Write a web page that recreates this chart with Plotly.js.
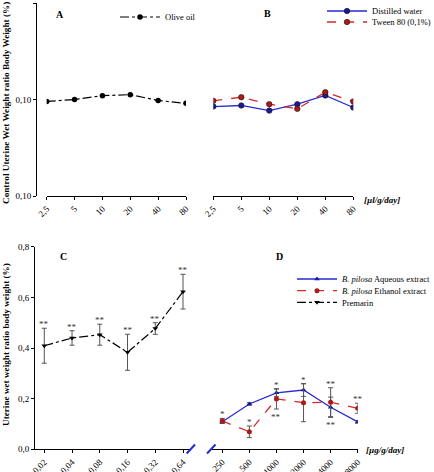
<!DOCTYPE html>
<html><head><meta charset="utf-8">
<script src="https://cdn.plot.ly/plotly-3.0.1.min.js"></script>
<style>html,body{margin:0;padding:0;background:#fff}#chart{width:434px;height:472px}</style>
</head><body><div id="chart"></div>
<script>
// ---- data ----
const doseA = ['2,5','5','10','20','40','80'];
const oliveOil = [0.0998, 0.1000, 0.1004, 0.1005, 0.0999, 0.0996];
const distilledWater = [0.09927, 0.09938, 0.09885, 0.09951, 0.10042, 0.09917];
const tween80 = [0.09986, 0.10024, 0.09951, 0.09903, 0.10076, 0.09979];
const topTickVals = [0.09, 0.10, 0.11];
const topTickText = ['0,10', '0,10', '0,11'];

const doseC = ['0,02','0,04','0,08','0,16','0,32','0,64'];
const premarin = [0.409, 0.4395, 0.4525, 0.383, 0.477, 0.6225];
const premarinErr = [0.069, 0.0285, 0.0415, 0.071, 0.023, 0.0685];
const premarinSig = ['**','**','**','**','**','**'];

const doseD = ['250','500','1000','2000','4000','8000'];
const aqueous = [0.109, 0.179, 0.223, 0.234, 0.166, 0.108];
const aqueousErr = [0.006, 0.005, 0.015, 0.025, 0.04, 0.005];
const aqueousSig = ['', '', '*', '*', '**', ''];
const aqueousSigSide = ['', '', 'up', 'up', 'down', ''];
const ethanol = [0.112, 0.069, 0.199, 0.184, 0.186, 0.162];
const ethanolErr = [0.01, 0.023, 0.04, 0.075, 0.057, 0.02];
const ethanolSig = ['*', '*', '**', '', '**', '**'];
const ethanolSigSide = ['up', 'up', 'down', '', 'up', 'up'];

// ---- helpers (pixel -> paper) ----
const W = 434, H = 472;
const fx = p => p / W;
const fy = p => 1 - p / H;
const SERIF = 'Liberation Serif, Times New Roman, serif';
const tickFont = {family: SERIF, size: 9, color: '#000'};
const BLUE = '#2a2ad2', BLUEM = '#1a1a96', RED = '#d42a2a', REDM = '#b01818';

const errStyle = arr => ({type: 'data', array: arr, visible: true, color: '#555', thickness: 1, width: 2.5});

const traces = [
  {x: doseA, y: oliveOil, xaxis: 'x', yaxis: 'y', name: 'Olive oil', legend: 'legend',
   mode: 'lines+markers', line: {color: '#000', width: 1.2, dash: 'dashdot'},
   marker: {symbol: 'circle', size: 5.5, color: '#000'}},
  {x: doseA, y: distilledWater, xaxis: 'x2', yaxis: 'y', name: 'Distilled water', legend: 'legend2',
   mode: 'lines+markers', line: {color: BLUE, width: 1.3},
   marker: {symbol: 'circle', size: 5.5, color: BLUEM, line: {color: '#111', width: 0.6}}},
  {x: doseA, y: tween80, xaxis: 'x2', yaxis: 'y', name: 'Tween 80 (0,1%)', legend: 'legend3',
   mode: 'lines+markers', line: {color: RED, width: 1.3, dash: 'dash'},
   marker: {symbol: 'circle', size: 5.5, color: REDM, line: {color: '#111', width: 0.6}}},
  {x: doseD, y: aqueous, error_y: errStyle(aqueousErr), xaxis: 'x4', yaxis: 'y3',
   name: '<i>B. pilosa</i> Aqueous extract', legend: 'legend4',
   mode: 'lines+markers', line: {color: BLUE, width: 1.3},
   marker: {symbol: 'triangle-up', size: 5, color: BLUEM}},
  {x: doseD, y: ethanol, error_y: errStyle(ethanolErr), xaxis: 'x4', yaxis: 'y3',
   name: '<i>B. pilosa</i> Ethanol extract', legend: 'legend5',
   mode: 'lines+markers', line: {color: RED, width: 1.3, dash: 'dash'},
   marker: {symbol: 'circle', size: 5, color: REDM}},
  {x: doseC, y: premarin, error_y: errStyle(premarinErr), xaxis: 'x3', yaxis: 'y3',
   name: 'Premarin', legend: 'legend6',
   mode: 'lines+markers', line: {color: '#000', width: 1.2, dash: 'dashdot'},
   marker: {symbol: 'triangle-down', size: 5, color: '#000'}}
];

// ---- annotations ----
const ann = [];
const txt = (x, y, text, extra) => ann.push(Object.assign({xref: 'paper', yref: 'paper', x: fx(x), y: fy(y),
  xanchor: 'center', yanchor: 'middle', text, showarrow: false,
  font: {family: SERIF, size: 9, color: '#000'}}, extra || {}));
txt(6, 103, '<b>Control Uterine Wet Weight ratio Body Weight (%)</b>', {textangle: -90, font: {family: SERIF, size: 9.2, color: '#000'}});
txt(6, 345, '<b>Uterine wet weight ratio body weight (%)</b>', {textangle: -90, font: {family: SERIF, size: 9.2, color: '#000'}});
txt(60, 14, '<b>A</b>', {font: {family: SERIF, size: 10, color: '#000'}});
txt(267, 13, '<b>B</b>', {font: {family: SERIF, size: 10, color: '#000'}});
txt(63, 256, '<b>C</b>', {font: {family: SERIF, size: 10, color: '#000'}});
txt(279, 256, '<b>D</b>', {font: {family: SERIF, size: 10, color: '#000'}});
txt(362, 200, '<b><i>[µl/g/day]</i></b>', {xanchor: 'left'});
txt(364, 450, '<b><i>[µg/g/day]</i></b>', {xanchor: 'left'});

// significance marks, placed by category index above / below the error bar
const sigAnn = (xs, ys, errs, sigs, sides, xa) => xs.forEach((c, i) => {
  if (!sigs[i]) return;
  const up = !sides || sides[i] === 'up';
  ann.push({xref: xa, yref: 'y3', x: i, y: up ? ys[i] + errs[i] : ys[i] - errs[i],
    xanchor: 'center', yanchor: up ? 'bottom' : 'top', yshift: up ? -3 : -1, text: sigs[i], showarrow: false,
    font: {family: SERIF, size: 9, color: '#333'}});
});
sigAnn(doseC, premarin, premarinErr, premarinSig, null, 'x3');
sigAnn(doseD, aqueous, aqueousErr, aqueousSig, aqueousSigSide, 'x4');
sigAnn(doseD, ethanol, ethanolErr, ethanolSig, ethanolSigSide, 'x4');

// ---- axes ----
const baseX = {type: 'category', showline: true, linecolor: '#000', linewidth: 1, ticks: 'outside',
  ticklen: 3, tickcolor: '#000', tickangle: -45, tickfont: tickFont, showgrid: false, zeroline: false,
  fixedrange: true, automargin: false};
const baseY = {showline: true, linecolor: '#000', linewidth: 1, ticks: 'outside', ticklen: 3, tickcolor: '#000',
  tickfont: tickFont, showgrid: false, zeroline: false, fixedrange: true, automargin: false};

const legendAt = (x, y) => ({x: fx(x), y: fy(y), xanchor: 'left', yanchor: 'middle', bgcolor: 'rgba(0,0,0,0)',
  borderwidth: 0, font: {family: SERIF, size: 8.5, color: '#000'}, itemwidth: 40});

const layout = {
  width: W, height: H, margin: {l: 0, r: 0, t: 0, b: 0, autoexpand: false},
  paper_bgcolor: '#fff', plot_bgcolor: 'rgba(0,0,0,0)',
  separators: ',.', showlegend: true,
  xaxis: Object.assign({}, baseX, {domain: [fx(46.7), fx(186)], range: [0, 5], anchor: 'y'}),
  xaxis2: Object.assign({}, baseX, {domain: [fx(213.3), fx(353.3)], range: [0, 5], anchor: 'y'}),
  yaxis: Object.assign({}, baseY, {domain: [fy(196), fy(3)], range: [0.09, 0.11], anchor: 'free', position: fx(36),
    tickvals: topTickVals, ticktext: topTickText}),
  xaxis3: Object.assign({}, baseX, {domain: [fx(34), fx(190)], range: [-0.371, 5.252], anchor: 'y3'}),
  xaxis4: Object.assign({}, baseX, {domain: [fx(212), fx(357.7)], range: [-0.38, 5], anchor: 'y3'}),
  yaxis3: Object.assign({}, baseY, {domain: [fy(449.3), fy(246.7)], range: [0, 0.8], anchor: 'free', position: fx(34),
    dtick: 0.2, tickformat: '.1f'}),
  legend: legendAt(115, 17),
  legend2: legendAt(322, 11),
  legend3: legendAt(322, 22),
  legend4: legendAt(292, 279),
  legend5: legendAt(292, 290.7),
  legend6: legendAt(292, 302.3),
  annotations: ann,
  shapes: [
    {type: 'line', xref: 'paper', yref: 'paper', x0: fx(186.7), y0: fy(453.5), x1: fx(195), y1: fy(444.5), line: {color: '#1f2fd0', width: 2}},
    {type: 'line', xref: 'paper', yref: 'paper', x0: fx(207), y0: fy(453.5), x1: fx(215.5), y1: fy(444.5), line: {color: '#1f2fd0', width: 2}}
  ]
};

Plotly.newPlot('chart', traces, layout, {staticPlot: true, displayModeBar: false});
</script></body></html>
